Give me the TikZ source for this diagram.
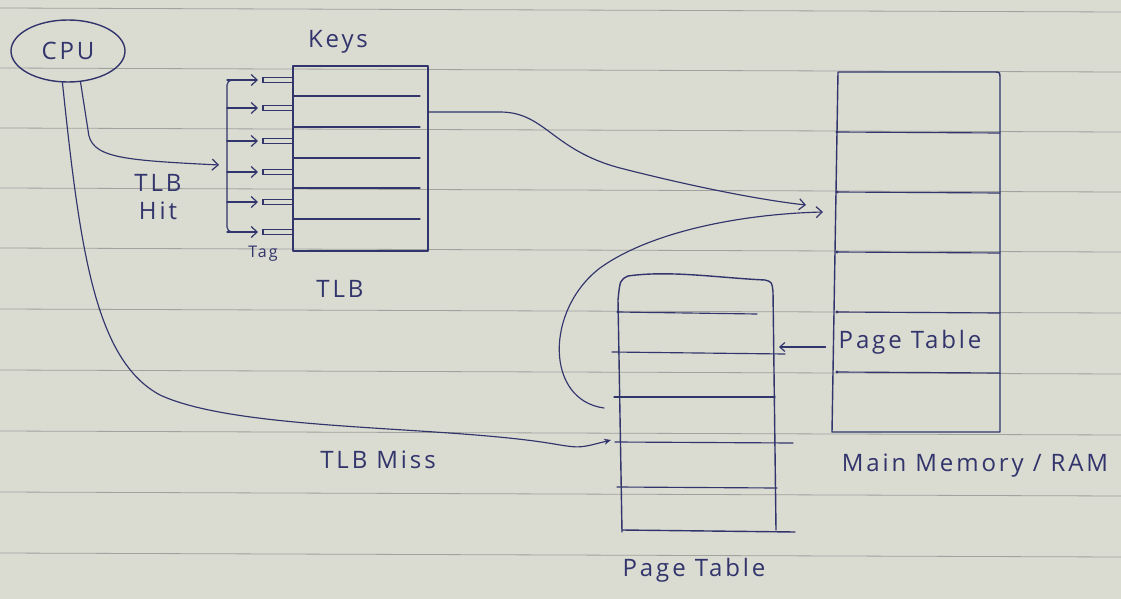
\documentclass[tikz,border=0pt]{standalone}
\usepackage{fontspec}
\setmainfont{Open Sans}
\newfontfamily\handfont{Open Sans}[LetterSpace=12]
\usetikzlibrary{shapes.geometric,arrows.meta,calc}
\definecolor{paper}{RGB}{218,219,209}
\definecolor{rulecol}{RGB}{160,162,158}
\definecolor{ink}{RGB}{50,52,108}
\begin{document}
\begin{tikzpicture}[x=1pt,y=-1pt,
  pen/.style={draw=ink, line width=1.4pt, line cap=round, line join=round},
  thin pen/.style={draw=ink, line width=1.15pt, line cap=round},
  hand/.style={text=ink, font=\handfont\fontsize{24}{28}\selectfont, inner sep=1pt},
  barb/.style={-{Straight Barb[length=6pt,width=11pt,line width=1.2pt]}},
  box/.style={minimum width=#1, anchor=north west, inner sep=0pt, outer sep=0pt},
]
% paper
\useasboundingbox (0,0) rectangle (1121,599);
\fill[paper] (0,0) rectangle (1121,599);
\foreach \yy in {8,68,128,188,248,309,370,431,492,553}
  \draw[rulecol, line width=0.8pt] (0,\yy) -- (1121,\yy+4);

% CPU
\node[ellipse, pen, minimum width=114pt, minimum height=62pt, hand] (cpu) at (68,51) {CPU};

% TLB
\node[box=135pt, minimum height=185pt, pen] (tlb) at (293,66) {};
\foreach \yy in {96,127,158,188,219}
  \draw[thin pen] (tlb.west |- 0,\yy) -- ($(tlb.east |- 0,\yy)+(-8,0)$);
\node[hand] (keys) at (338,42) {Keys};
\node[hand] (tlbname) at (340,289) {TLB};
\node[hand, font=\handfont\fontsize{16}{18}\selectfont] (tag) at (263,254) {Tag};

% tag comparators
\coordinate (bartop) at (227,80);
\coordinate (barbot) at (227,232);
\draw[thin pen, rounded corners=5pt] (252,80) -- (bartop) -- (barbot) -- (252,232);
\foreach \yy in {80,108,141,172,202,232}{
  \draw[thin pen, barb] (227,\yy) -- (258,\yy);
  \draw[thin pen] (293,\yy-2.5) -- (263,\yy-2.5) -- (263,\yy+2.5) -- (293,\yy+2.5);
}

% TLB hit
\node[hand, align=center] (hit) at (158,197) {TLB\\Hit};
\coordinate (hitend) at (219,165);
\draw[thin pen, barb] (cpu.-68) -- (88,130) .. controls (90,158) and (120,160) .. (hitend);

% Main memory
\node[box=164pt, minimum height=360pt] (mem) at (836,72) {};
\draw[pen] (832,432) -- (838,72) -- (995,72) .. controls (1000,72) .. (1000,80) -- (1000,432) -- cycle;
\foreach \yy in {132,192,252,312,372}{
  \draw[thin pen] (837,\yy) -- (1000,\yy+1);
  \fill[ink] (837,\yy) circle (1.6pt);
}
\node[hand] (ptlabel) at (910,342) {Page Table};
\node[hand] (memname) at (975,466) {Main Memory / RAM};

% Page table
\node[box=160pt, minimum height=260pt] (pt) at (617,272) {};
\draw[pen] (622,532) -- (618,300) .. controls (620,280) .. (628,276)
  .. controls (670,270) and (720,278) .. (765,280) .. controls (772,282) .. (773,292) -- (776,530);
\draw[pen] (622,530) -- (795,532);
\draw[thin pen] (618,312) -- (757,314);
\draw[thin pen] (612,352) -- (785,354);
\draw[thin pen] (614,397) -- (775,397);
\draw[thin pen] (615,442) -- (793,443);
\draw[thin pen] (617,487) -- (777,488);
\fill[ink] (618,312) circle (1.6pt);
\node[hand] (ptname) at (694,570) {Page Table};

% page table arrow inside memory
\draw[thin pen, -{Straight Barb[length=5pt,width=9pt]}] ($(ptlabel.west)+(-12,5)$) -- ($(pt.east |- ptlabel.west)+(2,5)$);

% TLB -> memory
\coordinate (tlbout) at ($(tlb.north east)+(0,46)$);
\coordinate (memin1) at (806,205);
\draw[thin pen, barb] (tlbout) -- (500,112) .. controls (545,112) and (552,150) .. (620,168)
  .. controls (690,186) and (760,200) .. (memin1);

% page table -> memory
\coordinate (ptout) at (604,408);
\coordinate (memin2) at (823,212);
\draw[thin pen, barb] (ptout) .. controls (545,400) and (545,310) .. (600,268)
  .. controls (650,232) and (740,214) .. (memin2);

% TLB miss
\node[hand] (miss) at (378,460) {TLB Miss};
\coordinate (ptin) at (611,440);
\draw[thin pen, -{Stealth[length=7pt,width=6pt]}] (cpu.-100) .. controls (80,250) and (95,360) .. (160,395)
  .. controls (240,432) and (450,425) .. (560,445) .. controls (580,448) .. (ptin);
\end{tikzpicture}
\end{document}
